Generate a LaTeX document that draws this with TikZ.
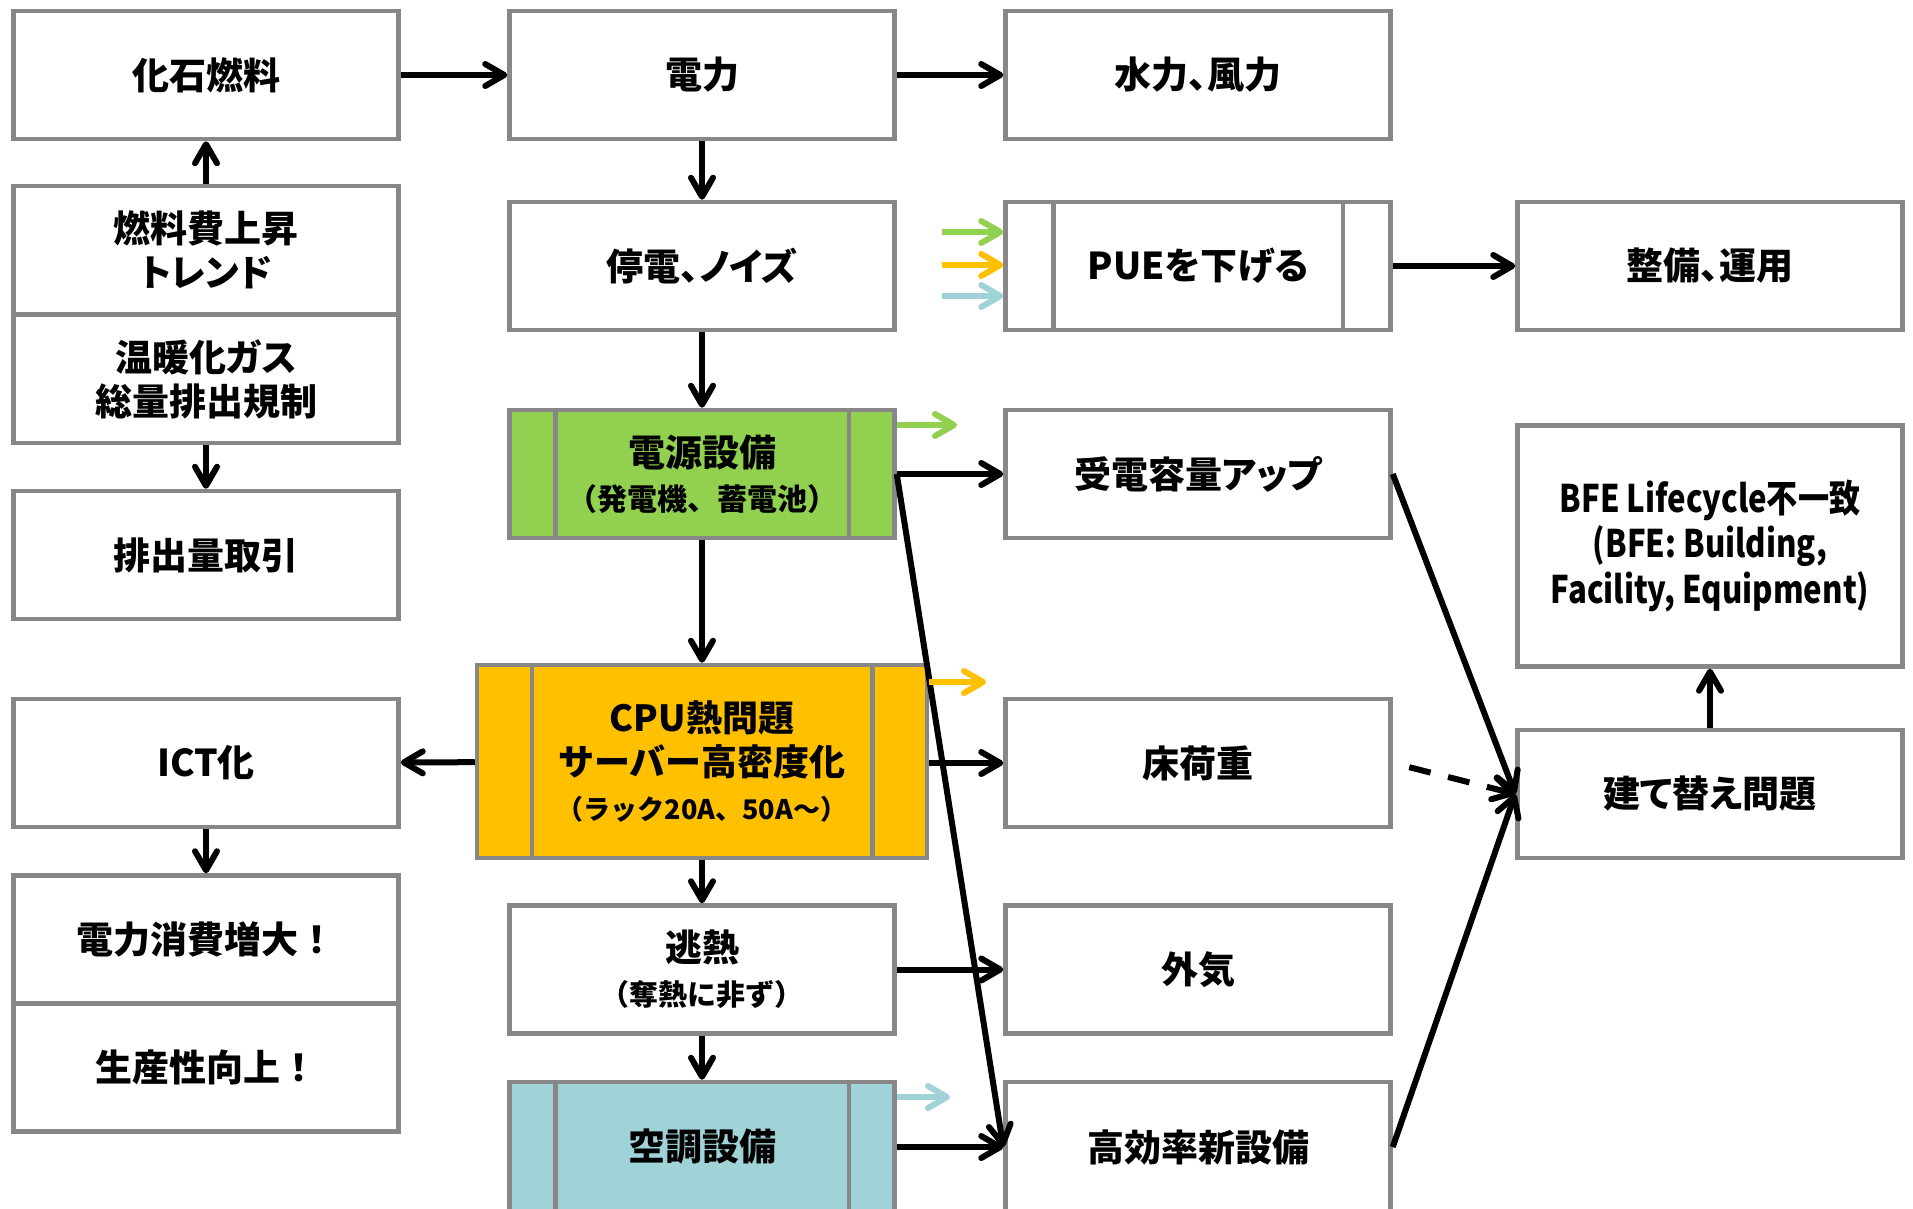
\documentclass[tikz,border=0pt]{standalone}
\usepackage{fontspec}
\IfFontExistsTF{Noto Sans CJK JP Black}{%
  \setmainfont{Noto Sans CJK JP}[BoldFont={Noto Sans CJK JP Black},RawFeature=+palt]
  \newfontfamily\monofam{Noto Sans CJK JP}[BoldFont={Noto Sans CJK JP Black}]
  \newfontfamily\condfam{Noto Sans CJK JP}[BoldFont={Noto Sans CJK JP Black},FakeStretch=0.82]
}{%
  \setmainfont{Noto Sans CJK JP}[RawFeature=+palt]
  \newfontfamily\monofam{Noto Sans CJK JP}
  \newfontfamily\condfam{Noto Sans CJK JP}[FakeStretch=0.82]
}
\usetikzlibrary{arrows.meta}
\definecolor{bgray}{RGB}{135,135,135}
\definecolor{pgreen}{RGB}{146,208,80}
\definecolor{porange}{RGB}{255,192,0}
\definecolor{pblue}{RGB}{160,211,216}
\newcommand{\smalltxt}[2]{{\monofam\fontsize{#1}{#1}\selectfont #2}}
\newcommand{\sidebars}[2]{%
  \draw[barline] ([xshift=#2]#1.north west) -- ([xshift=#2]#1.south west);
  \draw[barline] ([xshift=-#2]#1.north east) -- ([xshift=-#2]#1.south east);}
\begin{document}
\begin{tikzpicture}[x=1pt,y=-1pt,
  box/.style={draw=bgray, line width=4.5pt, fill=white, minimum width=385pt,
    minimum height=128pt, inner sep=0pt, align=center,
    font=\bfseries\fontsize{37}{44}\selectfont},
  monobox/.style={box, font=\bfseries\monofam\fontsize{37}{44}\selectfont},
  barline/.style={draw=bgray, line width=4.5pt},
  arr/.style={line width=6pt, -{Straight Barb[length=19pt,width=22pt,round]}},
  carr/.style={line width=6pt, draw=#1, -{Straight Barb[length=19pt,width=22pt,round]}}
]
\useasboundingbox (0,0) rectangle (1913,1208);
\begin{scope}
\clip (0,0) rectangle (1913,1208);
% column 1
\node[box] (fossil) at (206,75) {化石燃料};
\node[box] (fuel) at (206,250) {燃料費上昇\\トレンド};
\node[box] (gas) at (206,379) {温暖化ガス\\総量排出規制};
\node[box] (emis) at (206,555) {排出量取引};
\node[box] (ict) at (206,763) {ICT化};
\node[monobox] (shohi) at (206,939.5) {電力消費増大！};
\node[monobox] (seisan) at (206,1067.5) {生産性向上！};
% column 2
\node[box] (power) at (702,75) {電力};
\node[box] (outage) at (702,266) {停電、ノイズ};
\node[box, fill=pgreen] (psu) at (702,474) {電源設備\\\smalltxt{30}{（発電機、蓄電池）}};
\sidebars{psu}{48pt}
\node[box, fill=porange, minimum width=450pt, minimum height=193pt,
  font=\bfseries\monofam\fontsize{36}{44}\selectfont] (cpu) at (702,761.5)
  {CPU熱問題\\サーバー高密度化\\\smalltxt{27}{（ラック20A、50A～）}};
\sidebars{cpu}{57pt}
\node[box] (nekku) at (702,969.5) {逃熱\\\smalltxt{29}{（奪熱に非ず）}};
\node[box, fill=pblue, minimum height=130pt] (kucho) at (702,1147) {空調設備};
\sidebars{kucho}{48pt}
% column 3
\node[box] (hydro) at (1198,75) {水力、風力};
\node[box] (pue) at (1198,266) {PUEを下げる};
\sidebars{pue}{50pt}
\node[box] (jyuden) at (1198,474) {受電容量アップ};
\node[box] (yuka) at (1198,763) {床荷重};
\node[box] (gaiki) at (1198,969.5) {外気};
\node[box, minimum height=130pt] (kouritsu) at (1198,1147) {高効率新設備};
% column 4
\node[box] (seibi) at (1710,266) {整備、運用};
\node[box, minimum height=241pt, font=\bfseries\condfam\fontsize{38}{45.5}\selectfont] (bfe) at (1710,546)
  {BFE Lifecycle不一致\\(BFE: Building,\\Facility, Equipment)};
\node[box] (tatekae) at (1710,794) {建て替え問題};
% black connectors
\draw[arr] (fossil) -- (power);
\draw[arr] (power) -- (hydro);
\draw[arr] (fuel) -- (fossil);
\draw[arr] (gas) -- (emis);
\draw[arr] (power) -- (outage);
\draw[arr] (outage) -- (psu);
\draw[arr] (psu.east) -- (jyuden.west);
\draw[arr] (psu) -- (cpu);
\draw[arr] (psu.east) -- (kouritsu.west);
\draw[arr] (cpu) -- (ict);
\draw[arr] (cpu.east |- yuka.west) -- (yuka.west);
\draw[arr] (cpu) -- (nekku);
\draw[arr] (ict) -- (shohi);
\draw[arr] (nekku) -- (gaiki);
\draw[arr] (nekku) -- (kucho);
\draw[arr] (kucho.east) -- (kouritsu.west);
\draw[arr] (pue) -- (seibi);
\draw[arr] (jyuden.east) -- (tatekae.west);
\draw[arr, dash pattern=on 22pt off 18pt, shorten <=17pt] (yuka.east) -- (tatekae.west);
\draw[arr] (kouritsu.east) -- (tatekae.west);
\draw[arr] (tatekae) -- (bfe);
% coloured arrows
\coordinate (ga) at (942,232);
\coordinate (oa) at (942,265);
\coordinate (ba) at (942,296);
\draw[carr=pgreen] (ga) -- (ga -| pue.west);
\draw[carr=porange] (oa) -- (oa -| pue.west);
\draw[carr=pblue] (ba) -- (ba -| pue.west);
\coordinate (gpsu) at (957,425);
\coordinate (ocpu) at (986,682);
\coordinate (bkucho) at (950,1097);
\draw[carr=pgreen] (gpsu -| psu.east) -- (gpsu);
\draw[carr=porange] (ocpu -| cpu.east) -- (ocpu);
\draw[carr=pblue] (bkucho -| kucho.east) -- (bkucho);
\end{scope}
\end{tikzpicture}
\end{document}
